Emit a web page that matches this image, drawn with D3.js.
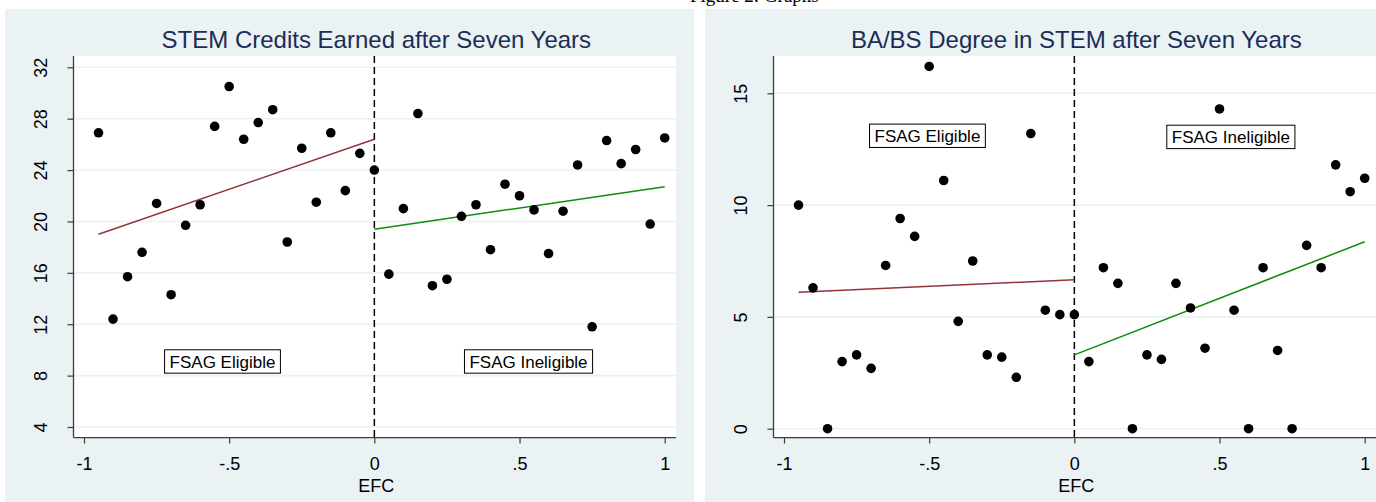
<!DOCTYPE html>
<html>
<head>
<meta charset="utf-8">
<script src="https://cdn.jsdelivr.net/npm/d3@7"></script>
<style>
  html, body { margin: 0; padding: 0; background: #ffffff; }
  svg { display: block; }
</style>
</head>
<body>
<svg id="chart" width="1376" height="502"></svg>
<script>
// EFC bins (binned running variable)
const efcBins = [
  -0.95, -0.90, -0.85, -0.80, -0.75, -0.70, -0.65, -0.60, -0.55, -0.50,
  -0.45, -0.40, -0.35, -0.30, -0.25, -0.20, -0.15, -0.10, -0.05, 0.00,
   0.05,  0.10,  0.15,  0.20,  0.25,  0.30,  0.35,  0.40,  0.45, 0.50,
   0.55,  0.60,  0.65,  0.70,  0.75,  0.80,  0.85,  0.90,  0.95, 1.00
];

// Mean STEM credits earned after seven years, per bin
const stemCredits = [
  26.9, 12.4, 15.7, 17.6, 21.4, 14.3, 19.7, 21.3, 27.4, 30.5,
  26.4, 27.7, 28.7, 18.4, 25.7, 21.5, 26.9, 22.4, 25.3, 24.0,
  15.9, 21.0, 28.4, 15.0, 15.5, 20.4, 21.3, 17.8, 22.9, 22.0,
  20.9, 17.5, 20.8, 24.4, 11.8, 26.3, 24.5, 25.6, 19.8, 26.5
];

// Percent earning a BA/BS degree in STEM after seven years, per bin
const stemDegree = [
  10.0, 6.3, 0.0, 3.0, 3.3, 2.7, 7.3, 9.4, 8.6, 16.2,
  11.1, 4.8, 7.5, 3.3, 3.2, 2.3, 13.2, 5.3, 5.1, 5.1,
   3.0, 7.2, 6.5, 0.0, 3.3, 3.1, 6.5, 5.4, 3.6, 14.3,
   5.3, 0.0, 7.2, 3.5, 0.0, 8.2, 7.2, 11.8, 10.6, 11.2
];

// Linear fits on each side of the cutoff: [x0, x1] and [y0, y1]
const creditsFitEligible   = { x: [-0.95, 0], y: [19.0, 26.4] };
const creditsFitIneligible = { x: [0, 1],     y: [19.4, 22.7] };
const degreeFitEligible    = { x: [-0.95, 0], y: [6.1, 6.66] };
const degreeFitIneligible  = { x: [0, 1],     y: [3.3, 8.36] };

// Axis ticks
const xTicks = [-1, -0.5, 0, 0.5, 1];
const xTickLabels = ["-1", "-.5", "0", ".5", "1"];
const creditsTicks = [4, 8, 12, 16, 20, 24, 28, 32];
const degreeTicks = [0, 5, 10, 15];

const panels = [
  {
    title: "STEM Credits Earned after Seven Years",
    values: stemCredits,
    yDomain: [4, 32],
    yRange: [427, 67.3],
    ticks: creditsTicks,
    fits: [creditsFitEligible, creditsFitIneligible],
    notes: [
      { text: "FSAG Eligible", x: -0.523, y: 9.1 },
      { text: "FSAG Ineligible", x: 0.531, y: 9.1 }
    ]
  },
  {
    title: "BA/BS Degree in STEM after Seven Years",
    values: stemDegree,
    yDomain: [0, 15],
    yRange: [428.7, 93.3],
    ticks: degreeTicks,
    fits: [degreeFitEligible, degreeFitIneligible],
    notes: [
      { text: "FSAG Eligible", x: -0.506, y: 13.1 },
      { text: "FSAG Ineligible", x: 0.539, y: 13.05 }
    ]
  }
];

const BG = "#eaf2f3";
const AXIS = "#3c3c3c";
const TITLE = "#1c2d57";
const FIT_COLORS = ["#90353b", "#128a12"];
const FONT = "'Liberation Sans', Arial, sans-serif";

const svg = d3.select("#chart");

// Caption line of the surrounding page, mostly hidden by the panels
svg.append("text")
  .attr("x", 690).attr("y", 2)
  .attr("font-family", "'Liberation Serif', 'Times New Roman', serif")
  .attr("font-size", 19)
  .attr("fill", "#000")
  .text("Figure 2: Graphs");

const plot = { left: 73.5, right: 676, top: 56, bottom: 437.6 };

panels.forEach((p, i) => {
  const g = svg.append("g").attr("transform", `translate(${i * 700},0)`);

  // outer graph region
  g.append("rect")
    .attr("x", 5).attr("y", 9).attr("width", 689).attr("height", 493)
    .attr("fill", BG);

  // plot region
  g.append("rect")
    .attr("x", plot.left).attr("y", plot.top)
    .attr("width", plot.right - plot.left).attr("height", plot.bottom - plot.top)
    .attr("fill", "#ffffff");

  const x = d3.scaleLinear().domain([-1, 1]).range([84, 664.7]);
  const y = d3.scaleLinear().domain(p.yDomain).range(p.yRange);

  // horizontal grid lines
  g.append("g").selectAll("line")
    .data(p.ticks)
    .join("line")
    .attr("x1", plot.left).attr("x2", plot.right)
    .attr("y1", d => y(d)).attr("y2", d => y(d))
    .attr("stroke", BG).attr("stroke-width", 1.6);

  // title
  g.append("text")
    .attr("x", x(0) + 2).attr("y", 48)
    .attr("text-anchor", "middle")
    .attr("font-family", FONT).attr("font-size", 24)
    .attr("fill", TITLE)
    .text(p.title);

  // y axis
  const yAxis = d3.axisLeft(y).tickValues(p.ticks).tickSize(6).tickFormat(d3.format("d"));
  const ya = g.append("g").attr("transform", `translate(${plot.left},0)`).call(yAxis);
  ya.select(".domain").remove();
  ya.selectAll(".tick line").attr("stroke", AXIS).attr("stroke-width", 1.2);
  ya.selectAll(".tick text")
    .attr("x", 0).attr("dy", 0)
    .attr("transform", "translate(-27,0) rotate(-90)")
    .attr("text-anchor", "middle")
    .attr("font-family", FONT).attr("font-size", 18)
    .attr("fill", "#000");
  g.append("line")
    .attr("x1", plot.left).attr("x2", plot.left)
    .attr("y1", plot.top).attr("y2", plot.bottom)
    .attr("stroke", AXIS).attr("stroke-width", 1.3);

  // x axis
  const xAxis = d3.axisBottom(x).tickValues(xTicks).tickSize(6)
    .tickFormat((d, k) => xTickLabels[k]);
  const xa = g.append("g").attr("transform", `translate(0,${plot.bottom})`).call(xAxis);
  xa.select(".domain").remove();
  xa.selectAll(".tick line").attr("stroke", AXIS).attr("stroke-width", 1.2);
  xa.selectAll(".tick text")
    .attr("y", 32).attr("dy", 0)
    .attr("font-family", FONT).attr("font-size", 18)
    .attr("fill", "#000");
  g.append("line")
    .attr("x1", plot.left).attr("x2", plot.right)
    .attr("y1", plot.bottom).attr("y2", plot.bottom)
    .attr("stroke", AXIS).attr("stroke-width", 1.3);

  g.append("text")
    .attr("x", x(0) + 2).attr("y", 492)
    .attr("text-anchor", "middle")
    .attr("font-family", FONT).attr("font-size", 18)
    .attr("fill", "#000")
    .text("EFC");

  // cutoff
  g.append("line")
    .attr("x1", x(0)).attr("x2", x(0))
    .attr("y1", plot.top).attr("y2", plot.bottom)
    .attr("stroke", "#000").attr("stroke-width", 1.5)
    .attr("stroke-dasharray", "7,4");

  // fitted lines
  p.fits.forEach((f, k) => {
    const pts = f.x.map((v, j) => [v, f.y[j]]);
    g.append("path")
      .datum(pts)
      .attr("d", d3.line().x(d => x(d[0])).y(d => y(d[1])))
      .attr("fill", "none")
      .attr("stroke", FIT_COLORS[k])
      .attr("stroke-width", 1.5);
  });

  // bin means
  g.append("g").selectAll("circle")
    .data(efcBins.map((b, j) => [b, p.values[j]]))
    .join("circle")
    .attr("cx", d => x(d[0]))
    .attr("cy", d => y(d[1]))
    .attr("r", 4.8)
    .attr("fill", "#000");

  // region labels
  p.notes.forEach(n => {
    const lg = g.append("g");
    const t = lg.append("text")
      .attr("x", x(n.x)).attr("y", y(n.y))
      .attr("dy", "0.36em")
      .attr("text-anchor", "middle")
      .attr("font-family", FONT).attr("font-size", 17)
      .attr("fill", "#000")
      .text(n.text);
    const bb = t.node().getBBox();
    lg.insert("rect", "text")
      .attr("x", bb.x - 5).attr("y", y(n.y) - 11.7)
      .attr("width", bb.width + 10).attr("height", 23.4)
      .attr("fill", "#fff").attr("stroke", "#000").attr("stroke-width", 1);
  });
});
</script>
</body>
</html>
